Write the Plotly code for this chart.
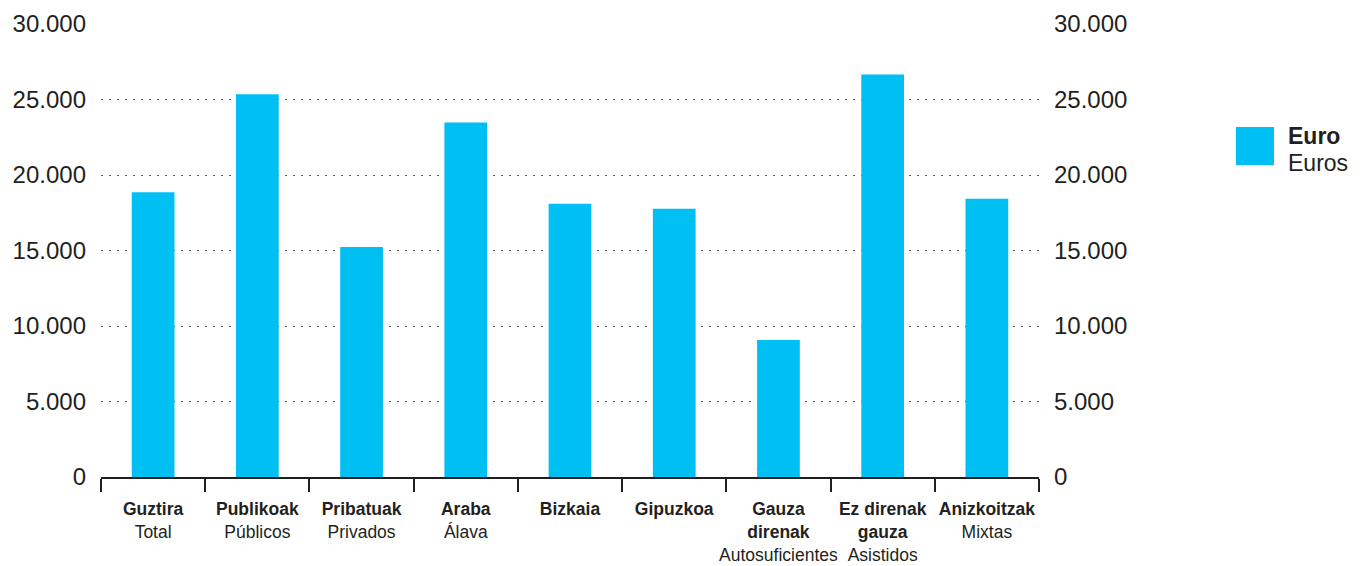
import plotly.graph_objects as go

categories_eu = ["Guztira", "Publikoak", "Pribatuak", "Araba", "Bizkaia", "Gipuzkoa",
                 "Gauza<br>direnak", "Ez direnak<br>gauza", "Anizkoitzak"]
categories_es = ["Total", "Públicos", "Privados", "Álava", "", "",
                 "Autosuficientes", "Asistidos", "Mixtas"]
values = [18860, 25340, 15230, 23470, 18100, 17770, 9080, 26660, 18430]
y_ticks = [0, 5000, 10000, 15000, 20000, 25000, 30000]
y_ticklabels = ["0", "5.000", "10.000", "15.000", "20.000", "25.000", "30.000"]
series_name_eu = "Euro"
series_name_es = "Euros"

labels = [f"<b>{eu}</b>" + (f"<br>{es}" if es else "") for eu, es in zip(categories_eu, categories_es)]

BLUE = "#00BFF3"
FONT = "Liberation Sans, Arial, sans-serif"
TXT = "#231F20"

fig = go.Figure()
fig.add_trace(go.Bar(x=labels, y=values, marker=dict(color=BLUE, line=dict(width=0)),
                     width=0.41, showlegend=False, hoverinfo="x+y"))
fig.add_trace(go.Scatter(x=labels, y=values, yaxis="y2", mode="markers",
                         marker=dict(opacity=0), showlegend=False, hoverinfo="skip"))

fig.update_layout(
    width=1363, height=566,
    margin=dict(l=93, r=332, t=16, b=97),
    paper_bgcolor="white", plot_bgcolor="white",
    font=dict(family=FONT, color=TXT),
    xaxis=dict(type="category", range=[-0.5, 8.5], tickson="boundaries",
               ticks="outside", ticklen=13, tickwidth=2, tickcolor=TXT,
               showline=True, linecolor=TXT, linewidth=2,
               showgrid=False, tickangle=0, automargin=False,
               ticklabelstandoff=15,
               tickfont=dict(size=17.5, color=TXT)),
    yaxis=dict(range=[0, 30000], tickvals=y_ticks, ticktext=y_ticklabels,
               showgrid=True, gridcolor="#58595B", gridwidth=1.2, griddash="1.5px,6.5px",
               zeroline=False, showline=False, ticks="", ticklabelstandoff=14,
               automargin=False,
               tickfont=dict(size=24, color=TXT), fixedrange=True),
    yaxis2=dict(range=[0, 30000], tickvals=y_ticks, ticktext=y_ticklabels,
                overlaying="y", side="right", showgrid=False, zeroline=False,
                showline=False, ticks="", ticklabelstandoff=14, automargin=False,
                tickfont=dict(size=24, color=TXT), fixedrange=True),
    bargap=0.59,
)

# legend (manual)
fig.add_shape(type="rect", xref="paper", yref="paper",
              x0=1.2100, x1=1.2505, y0=0.6887, y1=0.7726,
              fillcolor=BLUE, line=dict(width=0))
fig.add_annotation(xref="paper", yref="paper", x=1.2635, y=0.7528,
                   xanchor="left", yanchor="middle", showarrow=False, align="left",
                   text=f"<b>{series_name_eu}</b>",
                   font=dict(size=23, color=TXT, family=FONT))
fig.add_annotation(xref="paper", yref="paper", x=1.2635, y=0.6932,
                   xanchor="left", yanchor="middle", showarrow=False, align="left",
                   text=series_name_es,
                   font=dict(size=23, color=TXT, family=FONT))

fig.write_html("out.html")
